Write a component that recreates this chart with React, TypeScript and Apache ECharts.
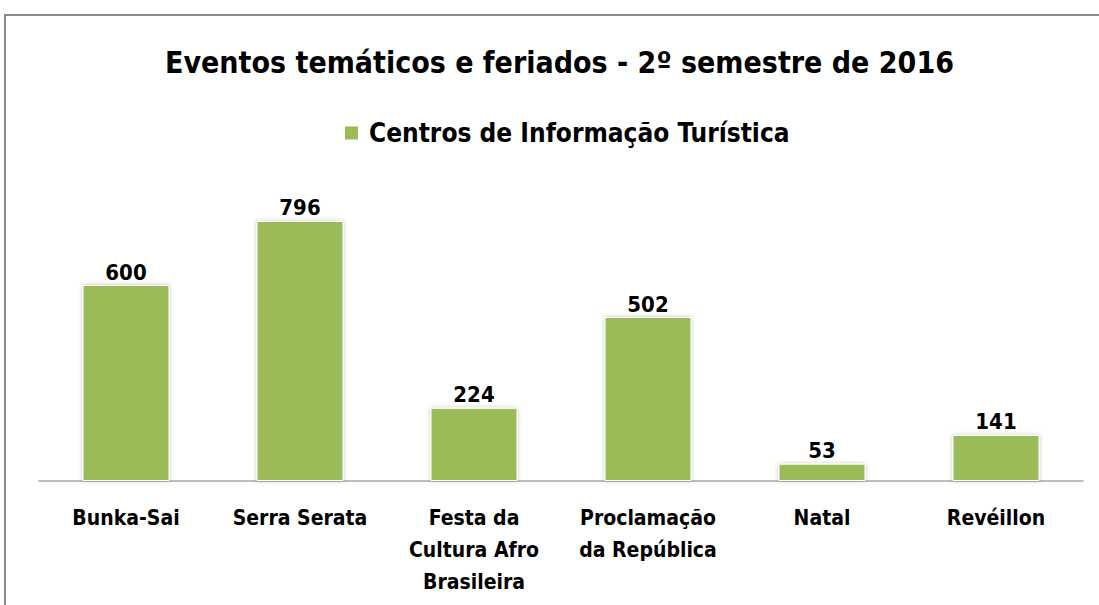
import React, { useEffect, useRef } from "react";
import * as echarts from "echarts";

const categories = [
  "Bunka-Sai",
  "Serra Serata",
  "Festa da\nCultura Afro\nBrasileira",
  "Proclamação\nda República",
  "Natal",
  "Revéillon",
];
const seriesName = "Centros de Informação Turística";
const values = [600, 796, 224, 502, 53, 141];
const titleText = "Eventos temáticos e feriados - 2º semestre de 2016";

const FONT = "'Liberation Sans Narrow', 'DejaVu Sans Condensed', 'Open Sans', sans-serif";

export default function App() {
  const ref = useRef<HTMLDivElement>(null);
  useEffect(() => {
    document.body.style.margin = "0";
    const chart = echarts.init(ref.current!, null, { renderer: "svg" });
    chart.setOption({
      animation: false,
      backgroundColor: "#ffffff",
      textStyle: { fontFamily: FONT },
      title: {
        text: titleText,
        left: 160,
        top: 42,
        textStyle: { fontFamily: FONT, fontWeight: "bold", fontSize: 30, color: "#000" },
      },
      legend: {
        data: [seriesName],
        top: 115,
        left: 338,
        itemWidth: 15,
        itemHeight: 15,
        itemGap: 10,
        icon: "rect",
        textStyle: { fontFamily: FONT, fontWeight: "bold", fontSize: 26, color: "#000", padding: [0, 0, 0, 5] },
      },
      grid: { left: 39, right: 16, top: 187, bottom: 124, containLabel: false },
      xAxis: {
        type: "category",
        data: categories,
        axisLine: { lineStyle: { color: "#a6a6a6", width: 1.5 } },
        axisTick: { show: false },
        axisLabel: {
          interval: 0,
          margin: 21,
          fontFamily: FONT,
          fontWeight: "bold",
          fontSize: 21,
          lineHeight: 32,
          color: "#000",
        },
      },
      yAxis: {
        type: "value",
        min: 0,
        max: 900,
        show: false,
        splitLine: { show: false },
      },
      graphic: [
        {
          type: "rect",
          shape: { x: 5, y: 15, width: 1200, height: 700 },
          style: { fill: "none", stroke: "#8a8a8a", lineWidth: 2 },
          silent: true,
        },
      ],
      series: [
        {
          name: seriesName,
          type: "bar",
          data: values,
          barCategoryGap: "50%",
          itemStyle: {
            color: "#9bbb59",
            borderColor: "#ffffff",
            borderWidth: 1,
            shadowColor: "rgba(0,0,0,0.25)",
            shadowBlur: 4,
          },
          label: {
            show: true,
            position: "top",
            distance: 2,
            fontFamily: FONT,
            fontWeight: "bold",
            fontSize: 22,
            color: "#000",
          },
        },
      ],
    });
    return () => chart.dispose();
  }, []);
  return <div ref={ref} style={{ width: 1099, height: 605 }} />;
}
